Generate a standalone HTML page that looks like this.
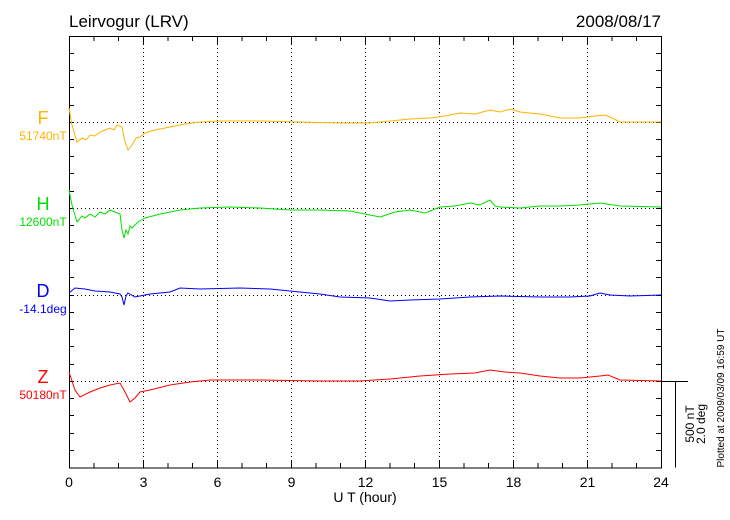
<!DOCTYPE html>
<html><head><meta charset="utf-8"><style>
body{margin:0;background:#fff;}
svg{display:block;font-family:"Liberation Sans",sans-serif;}
</style></head><body>
<svg width="730" height="520" viewBox="0 0 730 520" xmlns="http://www.w3.org/2000/svg">
<rect width="730" height="520" fill="#fff"/>
<text x="69" y="27" font-size="17">Leirvogur (LRV)</text>
<text x="661" y="27" font-size="17" text-anchor="end">2008/08/17</text>
<g stroke="#000" stroke-width="1" stroke-dasharray="1,3">
<line x1="143.5" y1="36" x2="143.5" y2="468"/><line x1="217.5" y1="36" x2="217.5" y2="468"/>
<line x1="291.5" y1="36" x2="291.5" y2="468"/><line x1="365.5" y1="36" x2="365.5" y2="468"/>
<line x1="439.5" y1="36" x2="439.5" y2="468"/><line x1="513.5" y1="36" x2="513.5" y2="468"/>
<line x1="587.5" y1="36" x2="587.5" y2="468"/>
<line x1="69" y1="122.5" x2="661" y2="122.5"/><line x1="69" y1="208.5" x2="661" y2="208.5"/>
<line x1="69" y1="295.5" x2="661" y2="295.5"/><line x1="69" y1="381.5" x2="661" y2="381.5"/>
</g>
<rect x="69.5" y="36.5" width="592" height="431.5" fill="none" stroke="#000"/>
<g stroke="#000" id="tk"></g>
<g stroke="#000">
<path d="M69 53.5h5M69 70.5h5M69 87.5h5M69 105.5h5M69 122.5h5M69 139.5h5M69 156.5h5M69 173.5h5M69 191.5h5M69 208.5h5M69 225.5h5M69 242.5h5M69 260.5h5M69 277.5h5M69 295.5h5M69 312.5h5M69 329.5h5M69 346.5h5M69 364.5h5M69 381.5h5M69 398.5h5M69 415.5h5M69 433.5h5M69 450.5h5"/>
<path d="M661 53.5h-5M661 70.5h-5M661 87.5h-5M661 105.5h-5M661 122.5h-5M661 139.5h-5M661 156.5h-5M661 173.5h-5M661 191.5h-5M661 208.5h-5M661 225.5h-5M661 242.5h-5M661 260.5h-5M661 277.5h-5M661 295.5h-5M661 312.5h-5M661 329.5h-5M661 346.5h-5M661 364.5h-5M661 381.5h-5M661 398.5h-5M661 415.5h-5M661 433.5h-5M661 450.5h-5"/>
<path d="M94 468v-5M118.5 468v-5M143.5 468v-8M168 468v-5M192.5 468v-5M217.5 468v-8M242 468v-5M266.5 468v-5M291.5 468v-8M316 468v-5M340.5 468v-5M365.5 468v-8M390 468v-5M414.5 468v-5M439.5 468v-8M464 468v-5M488.5 468v-5M513.5 468v-8M538 468v-5M562.5 468v-5M587.5 468v-8M612 468v-5M636.5 468v-5"/>
<path d="M94 36v5M118.5 36v5M143.5 36v8M168 36v5M192.5 36v5M217.5 36v8M242 36v5M266.5 36v5M291.5 36v8M316 36v5M340.5 36v5M365.5 36v8M390 36v5M414.5 36v5M439.5 36v8M464 36v5M488.5 36v5M513.5 36v8M538 36v5M562.5 36v5M587.5 36v8M612 36v5M636.5 36v5"/>
<path d="M661 381.5h27M675.5 381.5v86"/>
</g>
<g font-size="14" text-anchor="middle">
<text x="69" y="487">0</text><text x="143.5" y="487">3</text><text x="217.5" y="487">6</text><text x="291.5" y="487">9</text><text x="365.5" y="487">12</text><text x="439.5" y="487">15</text><text x="513.5" y="487">18</text><text x="587.5" y="487">21</text><text x="661" y="487">24</text>
<text x="365" y="502">U T (hour)</text>
</g>
<text transform="translate(694,424) rotate(-90)" font-size="12" text-anchor="middle">500 nT</text>
<text transform="translate(705,424) rotate(-90)" font-size="12" text-anchor="middle">2.0 deg</text>
<text transform="translate(724,398) rotate(-90)" font-size="10" text-anchor="middle">Plotted at 2009/03/09 16:59 UT</text>
<g text-anchor="middle">
<text x="43" y="124" font-size="18" fill="#ffb300">F</text><text x="43" y="140" font-size="12" fill="#ffb300">51740nT</text>
<text x="43" y="210" font-size="18" fill="#00e000">H</text><text x="43" y="226" font-size="12" fill="#00e000">12600nT</text>
<text x="43" y="297" font-size="18" fill="#0000ff">D</text><text x="43" y="313" font-size="12" fill="#0000ff">-14.1deg</text>
<text x="43" y="383" font-size="18" fill="#ff0000">Z</text><text x="43" y="399" font-size="12" fill="#ff0000">50180nT</text>
</g>
<g fill="none" stroke-width="1">
<polyline stroke="#ffb300" points="69,108 72,125 77,142 82,138 86,140 90,135 95,136 100,132 105,130 110,128 114,130 117,125 122,127 125,142 128,150 132,145 136,138 140,137 145,133 155,130 170,127 185,124 200,122 220,121 260,121 300,122 340,123 370,123 390,121 410,119 430,118 445,116 460,113 475,114 490,110 500,112 510,109 520,112 540,114 560,118 580,118 595,116 605,115 612,118 620,122 661,122"/>
<polyline stroke="#00e000" points="69,190 72,205 77,222 82,216 85,218 90,214 95,217 100,212 105,214 110,210 115,212 120,214 122,230 124,238 126,230 128,234 130,226 132,228 138,222 145,218 160,214 180,210 200,208 230,207 260,208 290,210 320,210 350,211 365,214 380,217 395,212 410,210 425,213 440,207 455,206 470,203 480,205 490,200 495,206 500,207 520,208 540,206 560,206 580,205 600,203 620,206 661,207"/>
<polyline stroke="#0000ff" points="69,293 75,288 85,289 95,291 110,292 120,294 122,297 124,305 126,296 128,293 135,297 150,294 170,292 180,288 200,289 240,288 270,289 300,292 320,294 340,297 370,298 390,301 410,300 440,299 470,297 500,296 540,297 570,297 590,296 600,293 610,295 630,296 661,295"/>
<polyline stroke="#ff0000" points="69,372 75,390 80,397 90,392 100,388 110,385 120,383 125,392 130,402 135,398 140,392 150,390 170,385 190,382 210,380 260,380 320,381 360,381 390,379 420,376 450,374 475,373 490,370 505,372 520,373 540,376 560,378 580,378 600,376 608,375 620,380 661,381"/>
</g>
</svg>
</body></html>
